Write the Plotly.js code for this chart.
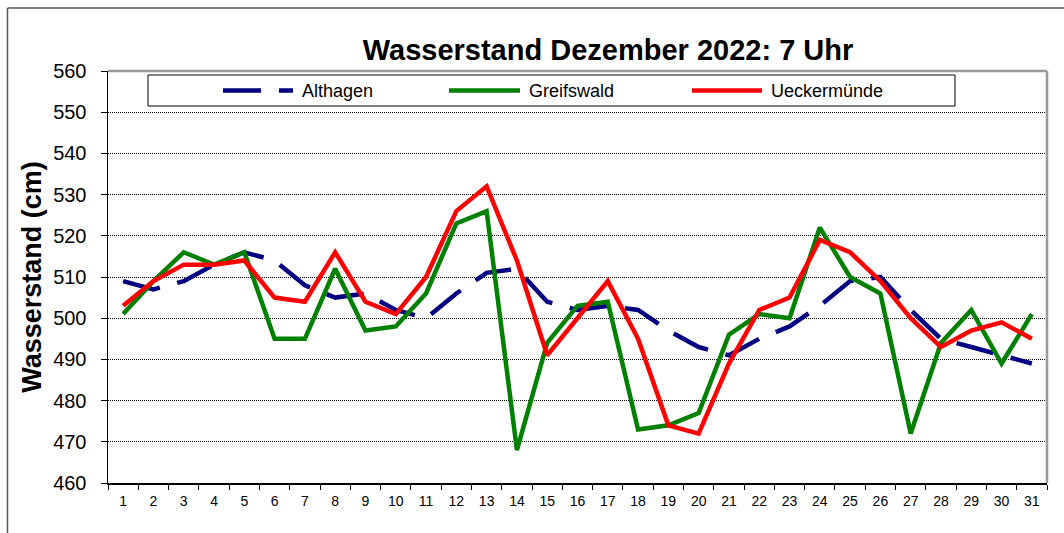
<!DOCTYPE html>
<html>
<head>
<meta charset="utf-8">
<script src="https://cdn.plot.ly/plotly-3.0.1.min.js"></script>
<style>
html,body{margin:0;padding:0;background:#fff;}
#chart{width:1064px;height:533px;}
</style>
</head>
<body>
<div id="chart"></div>
<script>
const days = ['1','2','3','4','5','6','7','8','9','10','11','12','13','14','15','16','17','18','19','20','21','22','23','24','25','26','27','28','29','30','31'];
const althagen = [509,507,509,513,516,514,508,505,506,502,500,506,511,512,504,502,503,502,497,493,491,495,498,503,509,510,502,495,493,491,489];
const greifswald = [501,509,516,513,516,495,495,512,497,498,506,523,526,468,494,503,504,473,474,477,496,501,500,522,510,506,472,494,502,489,501];
const ueckermuende = [503,509,513,513,514,505,504,516,504,501,510,526,532,514,491,500,509,495,474,472,489,502,505,519,516,509,500,493,497,499,495];
const seriesNames = ['Althagen','Greifswald','Ueckermünde'];
const yTicks = [460,470,480,490,500,510,520,530,540,550,560];

const FONT = 'Liberation Sans, Arial, sans-serif';
const W = 1064, H = 533;
const L = 108, R = 1047, T = 71, B = 483;
const px2x = p => (p - L) / (R - L);
const py2y = p => (B - p) / (B - T);

const colors = ['#000080', '#008000', '#FF0000'];
const dashes = ['38px,18px', 'solid', 'solid'];
const widths = [4.5, 4.5, 4.5];
const vals = [althagen, greifswald, ueckermuende];

const traces = vals.map((v, i) => ({
  x: days, y: v, type: 'scatter', mode: 'lines', name: seriesNames[i],
  line: {color: colors[i], width: widths[i], dash: dashes[i]},
  showlegend: false, hoverinfo: 'x+y+name'
}));

const shapes = [
  {type:'line', xref:'paper', yref:'paper', x0:px2x(7.5), x1:px2x(7.5), y0:py2y(8), y1:py2y(540), line:{color:'#555', width:1.5}},
  {type:'line', xref:'paper', yref:'paper', x0:px2x(7.5), x1:px2x(1070), y0:py2y(8), y1:py2y(8), line:{color:'#555', width:1.5}},
  {type:'line', xref:'paper', yref:'paper', x0:0, x1:1, y0:1, y1:1, line:{color:'#999', width:2.5}, layer:'above'},
  {type:'line', xref:'paper', yref:'paper', x0:1, x1:1, y0:0, y1:1, line:{color:'#999', width:2.5}, layer:'above'},
  {type:'rect', xref:'paper', yref:'paper', x0:px2x(148), x1:px2x(955), y0:py2y(106), y1:py2y(75), line:{color:'#000', width:1}, fillcolor:'#fff', layer:'above'}
];
const annotations = [];
const legendItems = [
  {x0:223, x1:293, tx:300},
  {x0:449, x1:520, tx:527},
  {x0:692, x1:762, tx:769}
];
legendItems.forEach((it, i) => {
  shapes.push({type:'line', xref:'paper', yref:'paper', x0:px2x(it.x0), x1:px2x(it.x1), y0:py2y(90.5), y1:py2y(90.5),
    line:{color:colors[i], width:widths[i], dash:dashes[i]}, layer:'above'});
  annotations.push({xref:'paper', yref:'paper', x:px2x(it.tx), y:py2y(90.5), xanchor:'left', yanchor:'middle',
    text:seriesNames[i], showarrow:false, font:{family:FONT, size:18, color:'#000'}});
});

const layout = {
  width: W, height: H,
  margin: {l: L, r: W - R, t: T, b: H - B, pad: 0},
  paper_bgcolor: '#fff', plot_bgcolor: '#fff',
  font: {family: FONT, color: '#000'},
  title: {text: '<b>Wasserstand Dezember 2022: 7 Uhr</b>', font: {family: FONT, size: 29, color: '#000'},
    xref: 'paper', x: px2x(608), xanchor: 'center', yref: 'container', y: 1 - 50 / H, yanchor: 'middle'},
  xaxis: {type: 'category', range: [-0.5, 30.5], tickson: 'boundaries', ticks: 'outside', ticklen: 5, tickwidth: 1, tickcolor: '#000',
    showline: true, linecolor: '#000', linewidth: 1.5, showgrid: false, zeroline: false, ticklabelstandoff: 5,
    tickfont: {family: FONT, size: 14, color: '#000'}, fixedrange: true},
  yaxis: {range: [460, 560], tickvals: yTicks, ticktext: yTicks.map(String), ticks: 'outside', ticklen: 6, tickwidth: 1, tickcolor: '#000',
    showline: true, linecolor: '#000', linewidth: 1.5, showgrid: true, gridcolor: '#000', gridwidth: 1, griddash: '1px,1px',
    zeroline: false, ticklabelstandoff: 10,
    tickfont: {family: FONT, size: 20, color: '#000'},
    title: {text: '<b>Wasserstand (cm)</b>', font: {family: FONT, size: 27, color: '#000'}, standoff: 3}, fixedrange: true},
  shapes: shapes, annotations: annotations,
  showlegend: false
};

Plotly.newPlot('chart', traces, layout, {displayModeBar: false, staticPlot: true});
</script>
</body>
</html>
